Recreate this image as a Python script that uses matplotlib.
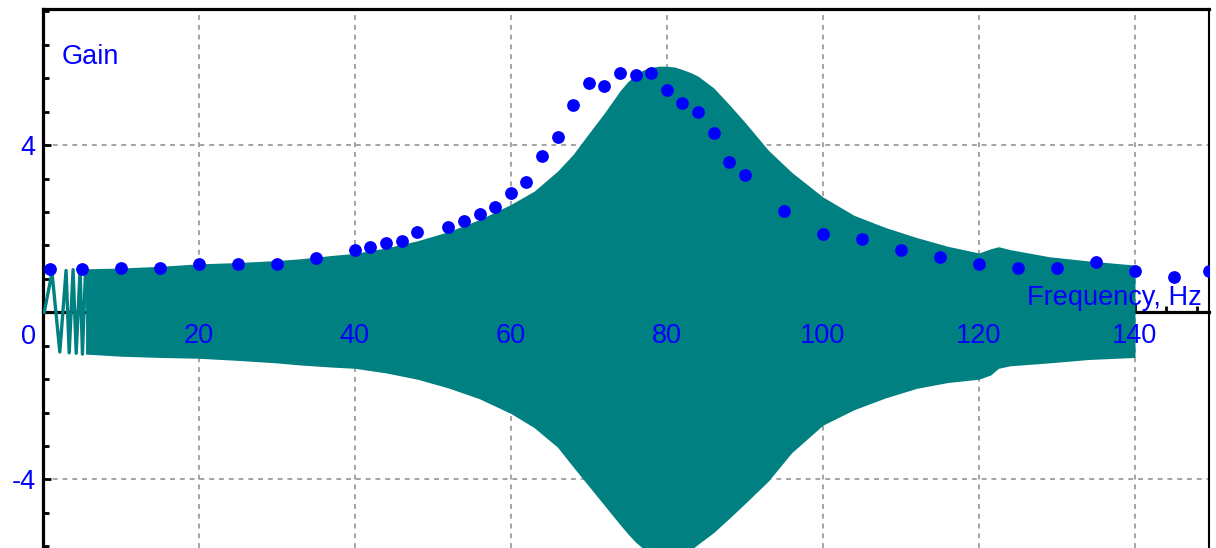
import matplotlib
matplotlib.use("Agg")
import matplotlib.pyplot as plt
from matplotlib.ticker import MultipleLocator

# ── Data ──────────────────────────────────────────────────────────────────
# measured gain points (blue dots)
dot_freq = [1, 5, 10, 15, 20, 25, 30, 35, 40, 42, 44, 46, 48, 52, 54, 56, 58,
            60, 62, 64, 66, 68, 70, 72, 74, 76, 78, 80, 82, 84, 86, 88, 90,
            95, 100, 105, 110, 115, 120, 125, 130, 135, 140, 145, 149.5]
dot_gain = [1.03, 1.03, 1.05, 1.05, 1.15, 1.15, 1.15, 1.31, 1.49, 1.57, 1.67,
            1.70, 1.93, 2.05, 2.18, 2.35, 2.52, 2.86, 3.12, 3.75, 4.19, 4.96,
            5.48, 5.42, 5.73, 5.69, 5.73, 5.33, 5.00, 4.79, 4.28, 3.59, 3.29,
            2.43, 1.88, 1.75, 1.50, 1.32, 1.15, 1.06, 1.06, 1.21, 0.99, 0.85,
            0.99]

# envelope of the swept response signal (teal band)
env_freq = [5.5, 10, 15, 20, 25, 30, 33, 37, 40, 44, 48, 52, 56, 60, 63, 66,
            68, 70, 72, 74, 75, 76, 77, 78, 79, 80, 81, 82, 83, 84, 86, 88,
            90, 93, 96, 100, 104, 108, 112, 116, 120, 121.5, 122.5, 124, 129,
            134, 140]
env_upper = [1.04, 1.06, 1.10, 1.16, 1.19, 1.24, 1.28, 1.36, 1.41, 1.54, 1.71,
             1.93, 2.22, 2.58, 2.90, 3.38, 3.78, 4.28, 4.77, 5.30, 5.52, 5.68,
             5.80, 5.86, 5.89, 5.89, 5.87, 5.81, 5.74, 5.65, 5.37, 4.97, 4.55,
             3.88, 3.35, 2.76, 2.32, 2.03, 1.79, 1.58, 1.42, 1.52, 1.57, 1.50,
             1.33, 1.23, 1.13]
env_lower = [-1.00, -1.05, -1.08, -1.10, -1.15, -1.21, -1.26, -1.31, -1.34,
             -1.45, -1.60, -1.81, -2.07, -2.42, -2.76, -3.23, -3.70, -4.16,
             -4.62, -5.08, -5.30, -5.50, -5.66, -5.78, -5.86, -5.90, -5.86,
             -5.78, -5.70, -5.55, -5.27, -4.93, -4.58, -4.04, -3.36, -2.70,
             -2.33, -2.05, -1.82, -1.68, -1.60, -1.50, -1.34, -1.28, -1.21,
             -1.13, -1.08]

# first few slow oscillations, still resolved at the start of the sweep
wig_freq = [0.2, 1.2, 2.2, 3.0, 3.4, 3.9, 4.3, 4.8, 5.1, 5.5]
wig_sig = [0.0, 0.95, -0.95, 1.0, -0.97, 1.02, -0.98, 1.03, -1.0, 1.03]

x_ticks = [20, 40, 60, 80, 100, 120, 140]
y_ticks = [-4, 4]

TEAL = "#008080"
BLUE = "#0000FF"
FS = 19.5
plt.rcParams['font.family'] = ['Liberation Sans', 'DejaVu Sans']

fig = plt.figure(figsize=(12.16, 5.48), dpi=100)
ax = fig.add_axes([42.65 / 1216, 0, (1209.5 - 42.65) / 1216, 539.5 / 548])

# ── Signal band + dots ────────────────────────────────────────────────────
ax.fill_between(env_freq, env_lower, env_upper, color=TEAL, lw=0, zorder=3)
ax.plot(wig_freq, wig_sig, color=TEAL, lw=2.4, zorder=3)
ax.plot(dot_freq, dot_gain, 'o', color=BLUE, ms=9.2, mew=0, zorder=4)

# ── Axes & cosmetics ──────────────────────────────────────────────────────
ax.set_xlim(0, 149.55)
ax.set_ylim(-5.64, 7.27)

ax.spines['bottom'].set_position(('data', 0))
for side in ['left', 'top', 'bottom']:
    ax.spines[side].set_linewidth(2.3)
ax.spines['right'].set_linewidth(1.5)

ax.set_xticks(x_ticks)
ax.xaxis.set_minor_locator(MultipleLocator(4))
ax.set_yticks(y_ticks)
ax.set_yticklabels([str(v) for v in y_ticks])
ax.yaxis.set_minor_locator(MultipleLocator(0.8))

ax.tick_params(which='both', direction='in', colors='black', width=2,
               labelcolor=BLUE, labelsize=FS)
ax.tick_params(which='major', length=6)
ax.tick_params(which='minor', length=4)
ax.tick_params(axis='x', labelbottom=False)
ax.tick_params(axis='y', which='major', pad=5)

# x tick labels sit on top of the teal band, so they are drawn as texts
for v in x_ticks:
    ax.annotate(str(v), xy=(v, 0), xytext=(0, -17.2),
                textcoords='offset points', ha='center', va='center',
                fontsize=FS, color=BLUE, zorder=5)

ax.set_axisbelow(True)
ax.grid(True, which='major', color='#8c8c8c', lw=1.1, ls=(0, (3.2, 3.2)))

# ── Labels ────────────────────────────────────────────────────────────────
ax.annotate("0", xy=(0, 0), xytext=(-10.3, -17.6), textcoords='offset points',
            ha='center', va='center', fontsize=FS, color=BLUE)
ax.annotate("Gain", xy=(0, 1), xycoords='axes fraction', xytext=(13.5, -40),
            textcoords='offset points', ha='left', va='baseline',
            fontsize=FS, color=BLUE)
ax.annotate("Frequency, Hz", xy=(1, 0), xycoords=('axes fraction', 'data'),
            xytext=(-5.5, 5), textcoords='offset points', ha='right',
            va='baseline', fontsize=FS, color=BLUE, zorder=5)

fig.savefig("out.png", dpi=100, facecolor='white')
